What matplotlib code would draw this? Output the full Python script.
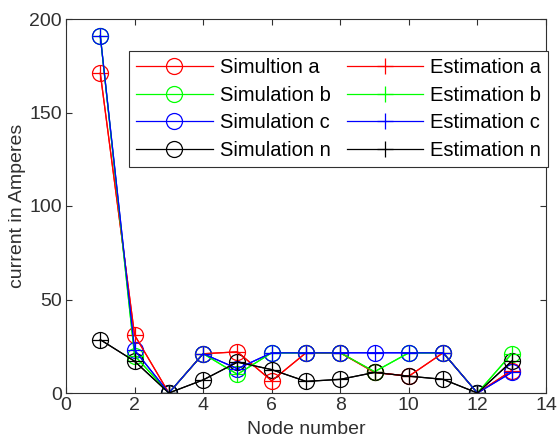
import matplotlib
matplotlib.use("Agg")
import matplotlib.pyplot as plt

plt.rcParams['font.family'] = ['Liberation Sans', 'DejaVu Sans']

nodes = [1, 2, 3, 4, 5, 6, 7, 8, 9, 10, 11, 12, 13]
sim_a = [171, 31, 0, 21, 22, 6.5, 21.5, 21.5, 11, 9, 21.5, 0, 12]
sim_b = [191, 20, 0, 21, 10, 21.5, 21.5, 21.5, 11.4, 21.5, 21.5, 0, 21]
sim_c = [191, 23, 0, 21, 13, 21.5, 21.5, 21.5, 21.5, 21.5, 21.5, 0, 11]
sim_n = [28.5, 17, 0, 7, 16.5, 12.5, 6.2, 7.3, 11, 9, 7.3, 0, 17]
est_a = sim_a
est_b = sim_b
est_c = sim_c
est_n = sim_n

sim_labels = ['Simultion a', 'Simulation b', 'Simulation c', 'Simulation n']
est_labels = ['Estimation a', 'Estimation b', 'Estimation c', 'Estimation n']
colors = ['#ff0000', '#00ff00', '#0000ff', '#000000']

fig = plt.figure(figsize=(5.58, 4.46), dpi=100)
ax = fig.add_axes([66/558, 1-393/446, (546-66)/558, (393-19)/446])

handles = []
for vals, lab, c in zip([sim_a, sim_b, sim_c, sim_n], sim_labels, colors):
    h, = ax.plot(nodes, vals, '-o', color=c, lw=0.9, ms=11.5, mfc='none', mew=0.9, label=lab)
    handles.append(h)
for vals, lab, c in zip([est_a, est_b, est_c, est_n], est_labels, colors):
    h, = ax.plot(nodes, vals, '-+', color=c, lw=0.9, ms=11.5, mew=0.9, label=lab)
    handles.append(h)

ax.set_xlim(0, 14)
ax.set_ylim(0, 200)
ax.set_xticks(range(0, 15, 2))
ax.set_yticks(range(0, 201, 50))
gray = '#303030'
for s in ax.spines.values():
    s.set_color(gray)
    s.set_linewidth(0.8)
ax.tick_params(direction='in', top=True, right=True, colors=gray, labelsize=14, length=4, width=0.8, pad=3)
for t in ax.get_xticklabels() + ax.get_yticklabels():
    t.set_color(gray)
ax.set_xlabel('Node number', fontsize=14, color=gray, labelpad=5)
ax.set_ylabel('current in Amperes', fontsize=14, color=gray, labelpad=2)

leg = fig.legend(handles=handles, ncol=2, loc='upper left',
                 bbox_to_anchor=(129/558, 1-51/446), fontsize=14.5,
                 frameon=True, fancybox=False, edgecolor=gray,
                 handlelength=3.8, handletextpad=0.35, columnspacing=0.8,
                 labelspacing=0.43, borderpad=0.35, borderaxespad=0,
                 framealpha=1)
leg.get_frame().set_linewidth(0.8)

fig.savefig('out.png', dpi=100)
